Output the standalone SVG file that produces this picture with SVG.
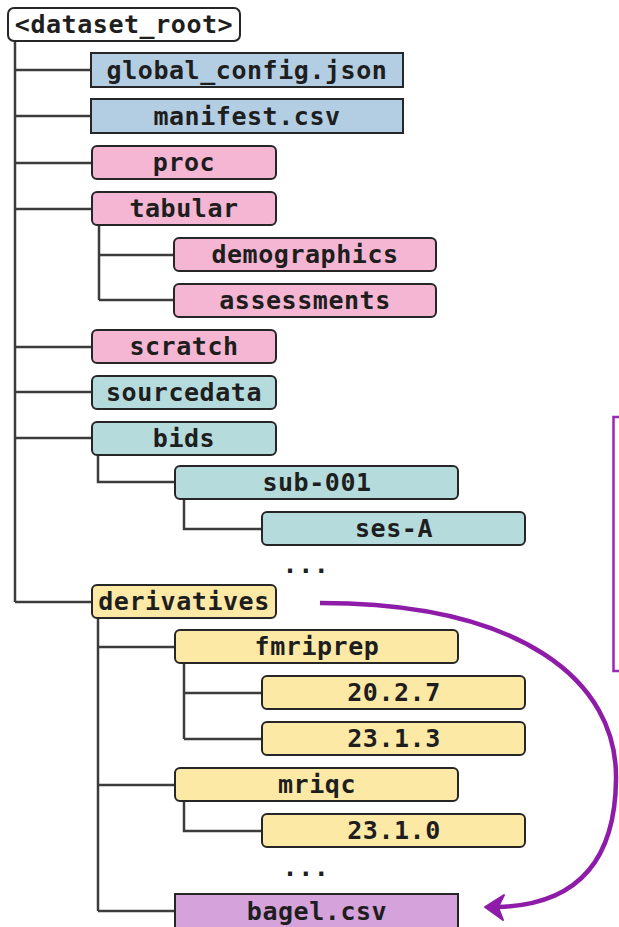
<svg xmlns="http://www.w3.org/2000/svg" width="619" height="927" viewBox="0 0 619 927">
<defs>
<style>
.b{stroke:#262626;stroke-width:2}
.t{font-family:"DejaVu Sans Mono","Liberation Mono",monospace;font-weight:bold;font-size:25px;letter-spacing:0.55px;fill:#1e1e1e;text-anchor:middle}
.c{fill:none;stroke:#3c3c3c;stroke-width:2.5}
.blue{fill:#b3cde3}
.pink{fill:#f4b6d2}
.teal{fill:#b5dbdc}
.yel{fill:#fde9a6}
.pur{fill:#d5a2dc}
.wh{fill:#ffffff}
</style>
</defs>
<rect width="619" height="927" fill="#ffffff"/>
<g id="connectors">
<path class="c" d="M15,41 V602 M15,70 H92 M15,116 H92 M15,163 H92 M15,209 H92 M15,347 H92 M15,392 H92 M15,438 H92 M15,602 H92"/>
<path class="c" d="M99,225 V300 M99,255 H174 M99,300 H174"/>
<path class="c" d="M98,455 V482 H175"/>
<path class="c" d="M184,499 V529 H262"/>
<path class="c" d="M98,618 V911 M98,647 H175 M98,785 H175 M98,911 H175"/>
<path class="c" d="M184,663 V739 M184,693 H262 M184,739 H262"/>
<path class="c" d="M184,801 V831 H262"/>
<path d="M320,603 C520,603 618,680 616,780 C615,868 570,905 498,907" fill="none" stroke="#8f1ca8" stroke-width="4.5"/>
<path d="M485,907 L504,895 L498,907 L503,920 z" fill="#8f1ca8" stroke="#8f1ca8" stroke-width="2" stroke-linejoin="round"/>
</g>
<rect x="613.5" y="417" width="20" height="254" fill="none" stroke="#9c27b0" stroke-width="2.5"/>
<g id="root"><rect class="b wh" x="8" y="8" width="232" height="33" rx="6"/><text class="t" x="124" y="33">&lt;dataset_root&gt;</text></g>
<g id="global_config"><rect class="b blue" x="91" y="53" width="312" height="34"/><text class="t" x="247" y="79">global_config.json</text></g>
<g id="manifest"><rect class="b blue" x="91" y="99" width="312" height="34"/><text class="t" x="247" y="125">manifest.csv</text></g>
<g id="proc"><rect class="b pink" x="92" y="146" width="184" height="33" rx="5"/><text class="t" x="184" y="171">proc</text></g>
<g id="tabular"><rect class="b pink" x="92" y="192" width="184" height="33" rx="5"/><text class="t" x="184" y="217">tabular</text></g>
<g id="demographics"><rect class="b pink" x="174" y="238" width="262" height="33" rx="5"/><text class="t" x="305" y="263">demographics</text></g>
<g id="assessments"><rect class="b pink" x="174" y="284" width="262" height="33" rx="5"/><text class="t" x="305" y="309">assessments</text></g>
<g id="scratch"><rect class="b pink" x="92" y="330" width="184" height="33" rx="5"/><text class="t" x="184" y="355">scratch</text></g>
<g id="sourcedata"><rect class="b teal" x="92" y="376" width="184" height="33" rx="5"/><text class="t" x="184" y="401">sourcedata</text></g>
<g id="bids"><rect class="b teal" x="92" y="422" width="184" height="33" rx="5"/><text class="t" x="184" y="447">bids</text></g>
<g id="sub-001"><rect class="b teal" x="175" y="466" width="283" height="33" rx="5"/><text class="t" x="317" y="491">sub-001</text></g>
<g id="ses-A"><rect class="b teal" x="262" y="512" width="263" height="33" rx="5"/><text class="t" x="394" y="537">ses-A</text></g>
<g id="dots1"><text class="t" x="306" y="573">...</text></g>
<g id="derivatives"><rect class="b yel" x="92" y="585" width="184" height="33" rx="5"/><text class="t" x="184" y="610">derivatives</text></g>
<g id="fmriprep"><rect class="b yel" x="175" y="630" width="283" height="33" rx="5"/><text class="t" x="317" y="655">fmriprep</text></g>
<g id="v2027"><rect class="b yel" x="262" y="676" width="263" height="33" rx="5"/><text class="t" x="394" y="701">20.2.7</text></g>
<g id="v2313"><rect class="b yel" x="262" y="722" width="263" height="33" rx="5"/><text class="t" x="394" y="747">23.1.3</text></g>
<g id="mriqc"><rect class="b yel" x="175" y="768" width="283" height="33" rx="5"/><text class="t" x="317" y="793">mriqc</text></g>
<g id="v2310"><rect class="b yel" x="262" y="814" width="263" height="33" rx="5"/><text class="t" x="394" y="839">23.1.0</text></g>
<g id="dots2"><text class="t" x="306" y="876">...</text></g>
<g id="bagel"><rect class="b pur" x="175" y="894" width="283" height="36"/><text class="t" x="317" y="920">bagel.csv</text></g>
</svg>
